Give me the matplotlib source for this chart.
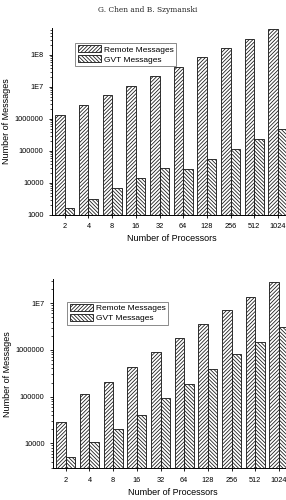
import numpy as np
import matplotlib
matplotlib.use('Agg')
from matplotlib import pyplot as plt
from matplotlib.ticker import FixedLocator, FixedFormatter, LogLocator, NullFormatter

plt.rcParams['font.family'] = ['Liberation Sans', 'DejaVu Sans']
plt.rcParams['hatch.linewidth'] = 0.55

processors = ['2', '4', '8', '16', '32', '64', '128', '256', '512', '1024']

# top chart
remote_top = [1.33e6, 2.7e6, 5.4e6, 1.05e7, 2.15e7, 4.1e7, 8.5e7, 1.6e8, 3.2e8, 6.3e8]
gvt_top = [1.7e3, 3.2e3, 6.8e3, 1.4e4, 2.9e4, 2.8e4, 5.8e4, 1.18e5, 2.4e5, 4.8e5]
yticks_top = [1e3, 1e4, 1e5, 1e6, 1e7, 1e8]
ylabels_top = ['1000', '10000', '100000', '1000000', '1E7', '1E8']

# bottom chart
remote_bot = [2.8e4, 1.12e5, 2.1e5, 4.2e5, 9.1e5, 1.8e6, 3.6e6, 7.1e6, 1.36e7, 2.8e7]
gvt_bot = [5.2e3, 1.05e4, 2.0e4, 4.1e4, 9.2e4, 1.83e5, 3.9e5, 8.1e5, 1.5e6, 3.1e6]
yticks_bot = [1e4, 1e5, 1e6, 1e7]
ylabels_bot = ['10000', '100000', '1000000', '1E7']

fig = plt.figure(figsize=(2.86, 5.0), dpi=100)
fig.text(0.517, 0.98, 'G. Chen and B. Szymanski', family='DejaVu Serif',
         fontsize=5.4, ha='center', va='center', color='#222222')


def draw(ax, remote, gvt, ylim, yticks, ylabels, leg_anchor):
    x = np.arange(len(processors))
    w = 0.4
    ax.bar(x - w / 2, remote, w, bottom=1, facecolor='white',
           edgecolor='#111111', linewidth=0.6, hatch='/////////', label='Remote Messages')
    ax.bar(x + w / 2, gvt, w, bottom=1, facecolor='white',
           edgecolor='#111111', linewidth=0.6, hatch='\\\\\\\\\\\\\\\\\\', label='GVT Messages')
    ax.set_yscale('log')
    ax.set_ylim(*ylim)
    ax.set_xlim(-0.54, 9.55)
    ax.yaxis.set_major_locator(FixedLocator(yticks))
    ax.yaxis.set_major_formatter(FixedFormatter(ylabels))
    ax.yaxis.set_minor_locator(LogLocator(base=10, subs=np.arange(2, 10), numticks=20))
    ax.yaxis.set_minor_formatter(NullFormatter())
    ax.set_xticks(x)
    ax.set_xticklabels(processors)
    ax.tick_params(axis='both', labelsize=5.3, width=0.6, length=2.5, pad=3.5)
    ax.tick_params(axis='y', which='minor', width=0.5, length=1.5)
    ax.spines['top'].set_visible(False)
    ax.spines['right'].set_visible(False)
    ax.spines['left'].set_linewidth(0.7)
    ax.spines['bottom'].set_linewidth(0.7)
    ax.set_xlabel('Number of Processors', fontsize=6.5, labelpad=3)
    ax.set_ylabel('Number of Messages', fontsize=6.5)
    ax.yaxis.set_label_coords(-41 / 239, 0.5)
    leg = ax.legend(loc='upper left', bbox_to_anchor=leg_anchor, fontsize=6.0,
                    frameon=True, fancybox=False, edgecolor='#555555',
                    handlelength=2.8, handleheight=0.85, handletextpad=0.35,
                    borderpad=0.3, labelspacing=0.2, borderaxespad=0)
    leg.get_frame().set_linewidth(0.6)


ax1 = fig.add_axes([52 / 286, 1 - 215 / 500, 239 / 286, 187 / 500])
draw(ax1, remote_top, gvt_top, (1e3, 10 ** 8.84), yticks_top, ylabels_top,
     ((75 - 52) / 239, (215 - 43) / 187))

ax2 = fig.add_axes([53 / 286, 1 - 468.3 / 500, 239 / 286, 189 / 500])
draw(ax2, remote_bot, gvt_bot, (10 ** 3.465, 10 ** 7.51), yticks_bot, ylabels_bot,
     ((67 - 53) / 239, (468.3 - 301.7) / 189))

fig.savefig('out.png', dpi=100)
